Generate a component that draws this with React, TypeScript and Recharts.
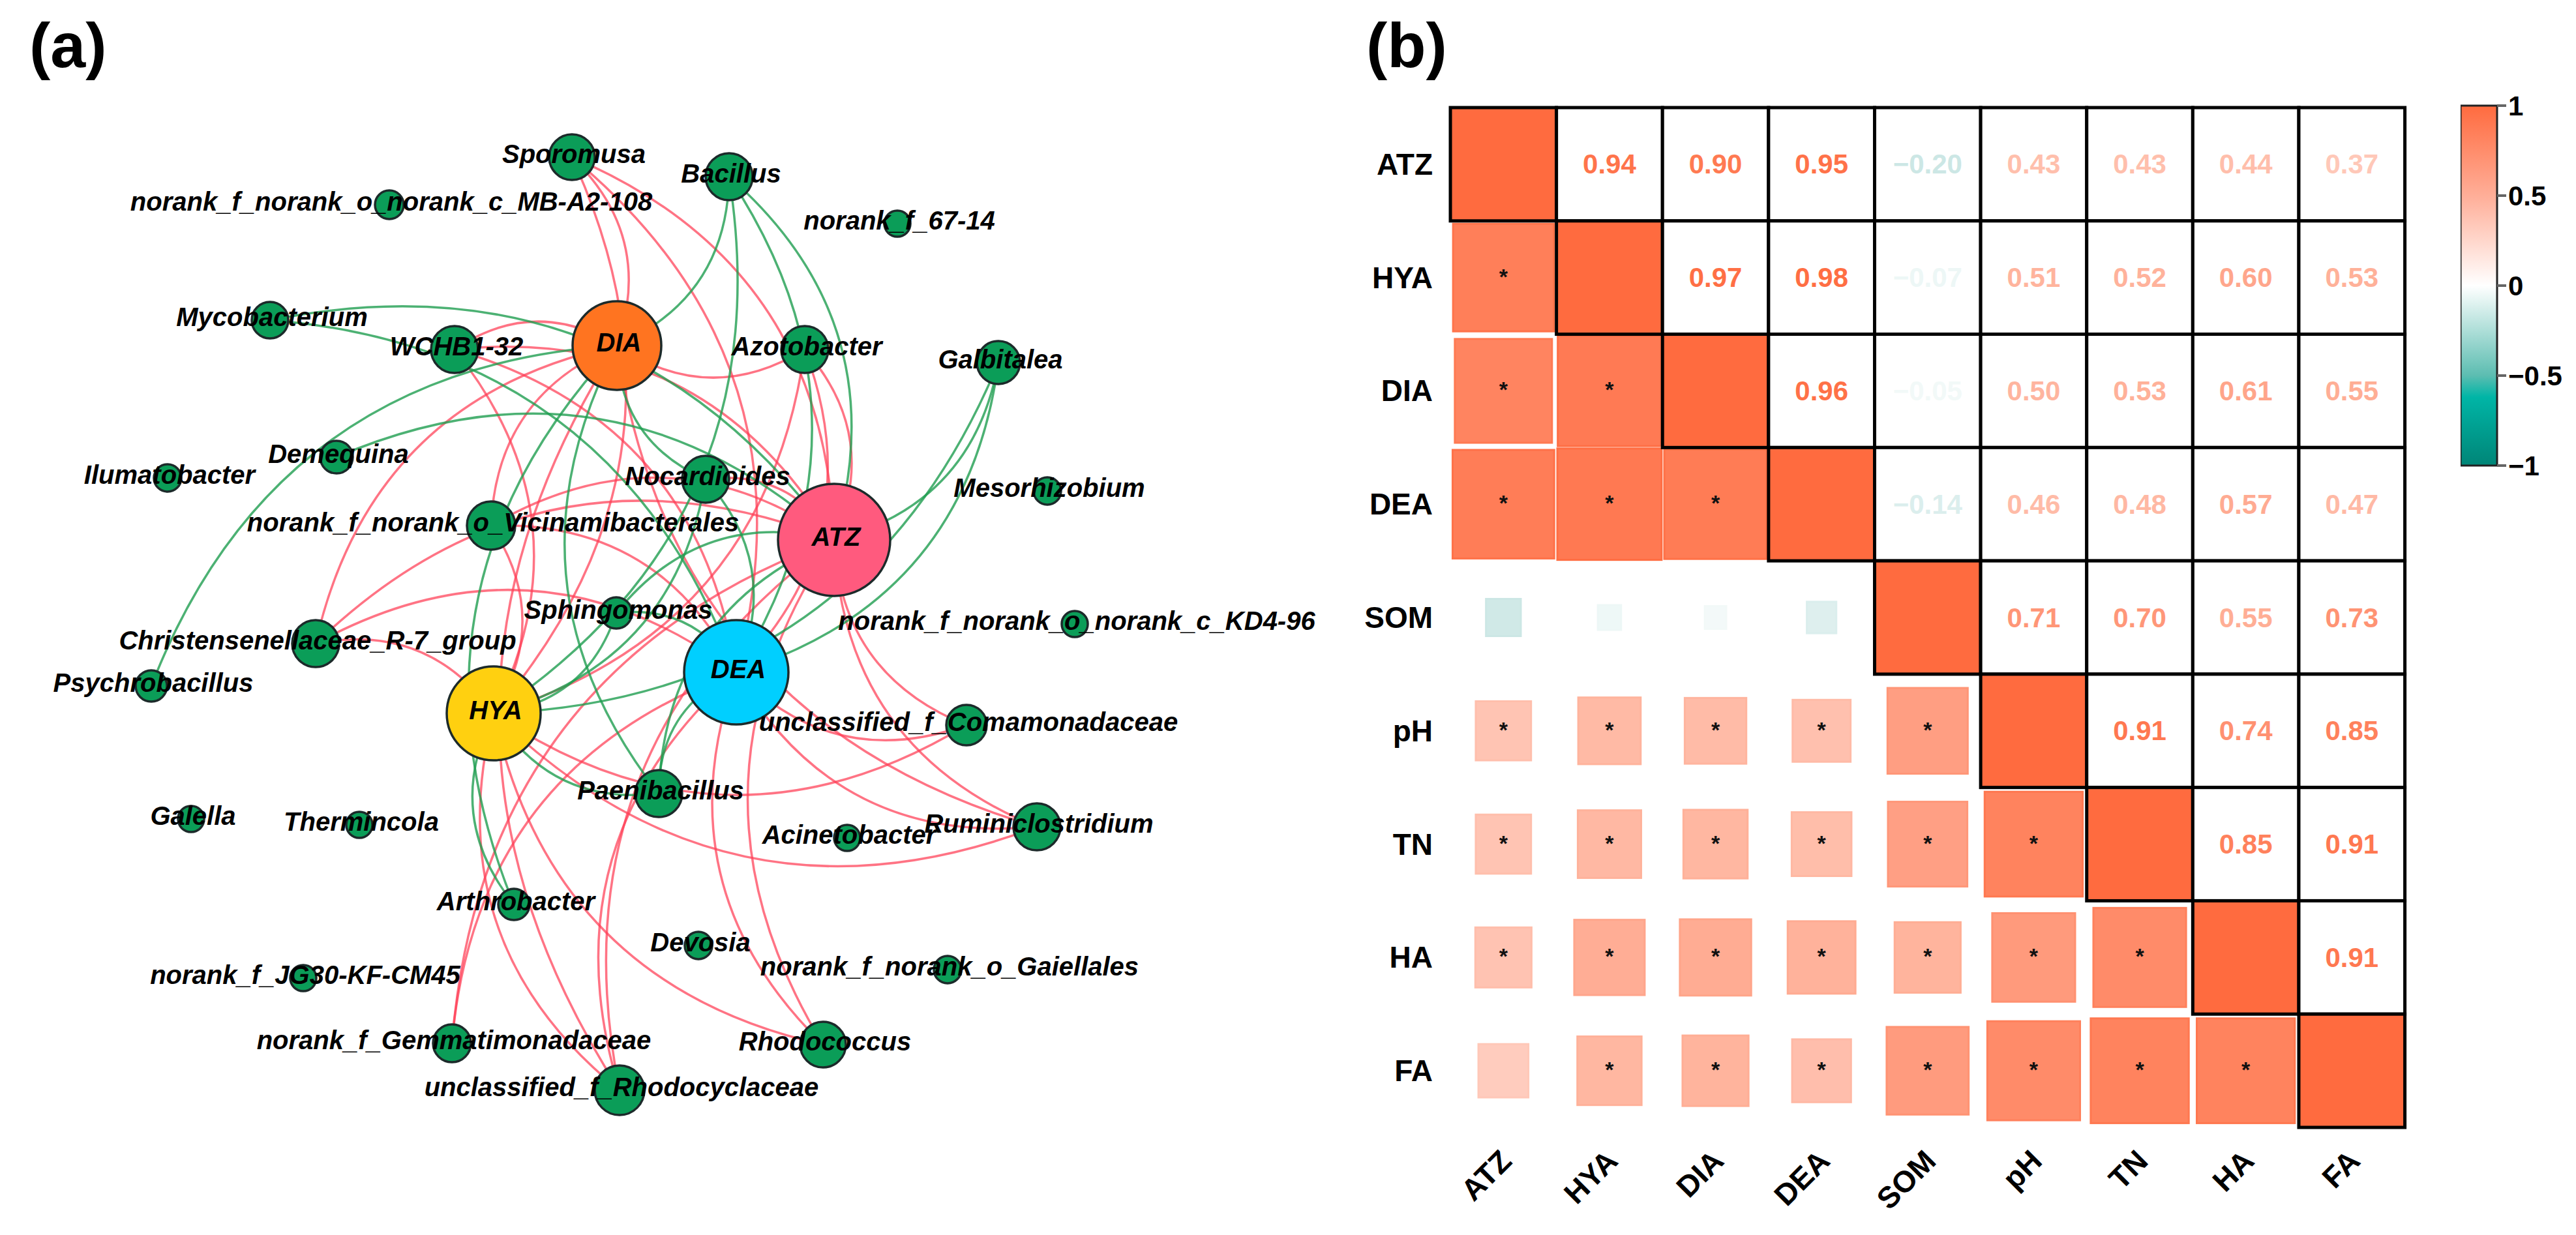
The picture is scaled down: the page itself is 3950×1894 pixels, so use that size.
import { BarChart, Bar, ComposedChart, Line, Scatter, ScatterChart, XAxis, YAxis } from "recharts";

const FONT = '"Liberation Sans", Arial, sans-serif';

// ---- panel (a): network, positions ----
const TAXA = [
  "Sporomusa", "norank_f_norank_o_norank_c_MB-A2-108", "Mycobacterium", "WCHB1-32", "Demequina", "Ilumatobacter",
  "norank_f_norank_o_Vicinamibacterales", "Sphingomonas", "Bacillus", "norank_f_67-14", "Azotobacter", "Galbitalea",
  "Nocardioides", "Mesorhizobium", "norank_f_norank_o_norank_c_KD4-96", "Christensenellaceae_R-7_group", "Psychrobacillus",
  "Paenibacillus", "unclassified_f_Comamonadaceae", "Ruminiclostridium", "Acinetobacter", "Galella", "Thermincola",
  "Arthrobacter", "norank_f_JG30-KF-CM45", "norank_f_Gemmatimonadaceae", "unclassified_f_Rhodocyclaceae", "Devosia",
  "norank_f_norank_o_Gaiellales", "Rhodococcus",
];
const TAXON_X = [877, 597, 414, 697, 516, 257, 753, 945, 1118, 1376, 1234, 1531, 1082, 1606, 1648, 484, 232, 1010, 1482, 1590, 1299, 293, 551, 788, 465, 693, 950, 1071, 1453, 1262];
const TAXON_Y = [241, 314, 491, 536, 701, 733, 806, 940, 271, 343, 536, 556, 735, 753, 957, 987, 1052, 1217, 1112, 1268, 1285, 1256, 1265, 1387, 1500, 1600, 1672, 1450, 1487, 1602];
const TAXON_R = [35, 22, 28, 36, 25, 21, 37, 24, 36, 20, 36, 33, 36, 21, 20, 36, 24, 36, 31, 36, 20, 20, 20, 24, 20, 29, 38, 21, 21, 35];

const HUBS = ["DIA", "ATZ", "HYA", "DEA"];
const HUB_X = [946, 1279, 757, 1129];
const HUB_Y = [530, 828, 1094, 1031];
const HUB_R = [68, 86, 72, 80];
const HUB_COLORS = ["#FF7420", "#FF5A7E", "#FFD010", "#00CFFF"];

// taxon -> hubs, positive (red) and negative (green) correlations
const RED_LINKS: [string, string[]][] = [
  ["Sporomusa", ["DIA", "HYA", "DEA", "ATZ"]],
  ["Azotobacter", ["DIA", "HYA", "DEA", "ATZ"]],
  ["WCHB1-32", ["DIA", "HYA", "DEA", "ATZ"]],
  ["Christensenellaceae_R-7_group", ["DIA", "HYA", "DEA", "ATZ"]],
  ["norank_f_norank_o_Vicinamibacterales", ["DIA", "HYA", "DEA", "ATZ"]],
  ["Nocardioides", ["ATZ"]],
  ["unclassified_f_Comamonadaceae", ["HYA", "DEA", "ATZ"]],
  ["Ruminiclostridium", ["DIA", "HYA", "DEA", "ATZ"]],
  ["Rhodococcus", ["HYA", "DEA", "ATZ"]],
  ["unclassified_f_Rhodocyclaceae", ["DIA", "HYA", "DEA", "ATZ"]],
  ["norank_f_Gemmatimonadaceae", ["DEA", "ATZ"]],
];
const GREEN_LINKS: [string, string[]][] = [
  ["Bacillus", ["DIA", "HYA", "DEA", "ATZ"]],
  ["Galbitalea", ["HYA", "DEA", "ATZ"]],
  ["Mycobacterium", ["DEA", "ATZ"]],
  ["Demequina", ["ATZ"]],
  ["Psychrobacillus", ["DIA"]],
  ["Nocardioides", ["DIA", "HYA", "DEA"]],
  ["Sphingomonas", ["HYA", "DEA", "ATZ"]],
  ["Paenibacillus", ["DIA", "HYA", "DEA", "ATZ"]],
  ["Arthrobacter", ["DIA", "HYA"]],
];

// ---- panel (b): correlation matrix ----
const VARS = ["ATZ", "HYA", "DIA", "DEA", "SOM", "pH", "TN", "HA", "FA"];
const CORR = [
  [1, 0.94, 0.9, 0.95, -0.2, 0.43, 0.43, 0.44, 0.37],
  [0.94, 1, 0.97, 0.98, -0.07, 0.51, 0.52, 0.6, 0.53],
  [0.9, 0.97, 1, 0.96, -0.05, 0.5, 0.53, 0.61, 0.55],
  [0.95, 0.98, 0.96, 1, -0.14, 0.46, 0.48, 0.57, 0.47],
  [-0.2, -0.07, -0.05, -0.14, 1, 0.71, 0.7, 0.55, 0.73],
  [0.43, 0.51, 0.5, 0.46, 0.71, 1, 0.91, 0.74, 0.85],
  [0.43, 0.52, 0.53, 0.48, 0.7, 0.91, 1, 0.85, 0.91],
  [0.44, 0.6, 0.61, 0.57, 0.55, 0.74, 0.85, 1, 0.91],
  [0.37, 0.53, 0.55, 0.47, 0.73, 0.85, 0.91, 0.91, 1],
];
// cells of the lower triangle that carry no star
const NOT_SIGNIFICANT = ["SOM-ATZ", "SOM-HYA", "SOM-DIA", "SOM-DEA", "FA-ATZ"];
const SCALE_TICKS = [-1, -0.5, 0, 0.5, 1];

const BEND = 0.32;
const MATRIX_W = 1463.6;
const MATRIX_H = 1564;
const CELL_W = MATRIX_W / 9;
const CELL_H = MATRIX_H / 9;

const hubNodes = HUBS.map((name, i) => ({ name, x: HUB_X[i], y: HUB_Y[i], r: HUB_R[i], color: HUB_COLORS[i] }));
const taxonNodes = TAXA.map((name, i) => ({ name, x: TAXON_X[i], y: TAXON_Y[i], r: TAXON_R[i], color: "#0B9D58" }));
const allNodes = [...taxonNodes, ...hubNodes];

function findNode(name: string) {
  return allNodes.find((n) => n.name === name)!;
}

// start, control point, end: the control point sits off the chord so the edge bows
function edgePoints(taxon: string, hub: string) {
  const a = findNode(taxon);
  const b = findNode(hub);
  const dx = b.x - a.x;
  const dy = b.y - a.y;
  return [
    { x: a.x, y: a.y },
    { x: (a.x + b.x) / 2 + BEND * dy, y: (a.y + b.y) / 2 - BEND * dx },
    { x: b.x, y: b.y },
  ];
}

// d3-style curve factory: one quadratic bezier through the three points of an edge
const quadraticEdge = (context: any) => {
  let pts: number[][] = [];
  return {
    areaStart() {},
    areaEnd() {},
    lineStart() {
      pts = [];
    },
    point(x: number, y: number) {
      pts.push([x, y]);
    },
    lineEnd() {
      if (pts.length < 3) return;
      context.moveTo(pts[0][0], pts[0][1]);
      context.quadraticCurveTo(pts[1][0], pts[1][1], pts[2][0], pts[2][1]);
    },
  };
};

const edges = [
  ...RED_LINKS.flatMap(([t, hubs]) => hubs.map((h) => ({ id: `r-${t}-${h}`, color: "#FF3D55", opacity: 0.72, points: edgePoints(t, h) }))),
  ...GREEN_LINKS.flatMap(([t, hubs]) => hubs.map((h) => ({ id: `g-${t}-${h}`, color: "#1F9E50", opacity: 0.8, points: edgePoints(t, h) }))),
];

function valueColor(v: number) {
  const t = Math.abs(v);
  const end = v >= 0 ? [255, 107, 63] : [0, 137, 123];
  const c = end.map((e) => Math.round(255 + (e - 255) * t));
  return `rgb(${c[0]},${c[1]},${c[2]})`;
}

function formatValue(v: number) {
  return (v < 0 ? "\u2212" : "") + Math.abs(v).toFixed(2);
}

const cells = CORR.flatMap((row, r) =>
  row.map((v, c) => ({
    col: c + 0.5,
    row: r + 0.5,
    v,
    star: r > c && !NOT_SIGNIFICANT.includes(`${VARS[r]}-${VARS[c]}`),
    upper: c >= r,
  }))
);
const upperCells = cells.filter((d) => d.upper);
const lowerCells = cells.filter((d) => !d.upper);

const NodeShape = (props: any) => {
  const { cx, cy, payload } = props;
  return <circle cx={cx} cy={cy} r={payload.r} fill={payload.color} stroke="#1c2a2a" strokeWidth={3.5} />;
};

const NodeLabel = (props: any) => {
  const { cx, cy, payload } = props;
  return (
    <text
      x={cx + 3}
      y={cy - 5}
      textAnchor="middle"
      dominantBaseline="central"
      fontFamily={FONT}
      fontSize={40}
      fontWeight="bold"
      fontStyle="italic"
      fill="#000"
    >
      {payload.name}
    </text>
  );
};

const LowerCell = (props: any) => {
  const { cx, cy, payload } = props;
  const scale = 0.16 + 0.84 * Math.abs(payload.v);
  const w = CELL_W * scale;
  const h = CELL_H * scale;
  const color = valueColor(payload.v);
  return (
    <g>
      <rect x={cx - w / 2} y={cy - h / 2} width={w} height={h} fill={color} fillOpacity={0.92} stroke={color} strokeWidth={3} />
      {payload.star && (
        <text x={cx} y={cy + 10} textAnchor="middle" fontFamily={FONT} fontSize={34} fontWeight="bold" fill="#111">
          *
        </text>
      )}
    </g>
  );
};

const UpperCell = (props: any) => {
  const { cx, cy, payload } = props;
  const diagonal = payload.v === 1;
  return (
    <g>
      <rect
        x={cx - CELL_W / 2}
        y={cy - CELL_H / 2}
        width={CELL_W}
        height={CELL_H}
        fill={diagonal ? "#FF6B3F" : "#fff"}
        stroke="#000"
        strokeWidth={5}
      />
      {!diagonal && (
        <text
          x={cx}
          y={cy}
          textAnchor="middle"
          dominantBaseline="central"
          fontFamily={FONT}
          fontSize={42}
          fontWeight="bold"
          fill={valueColor(payload.v)}
        >
          {formatValue(payload.v)}
        </text>
      )}
    </g>
  );
};

const RowTick = (props: any) => {
  const { x, y, payload } = props;
  return (
    <text x={x} y={y} textAnchor="end" dominantBaseline="central" fontFamily={FONT} fontSize={46} fontWeight="bold" fill="#000">
      {VARS[payload.value - 0.5]}
    </text>
  );
};

const ColTick = (props: any) => {
  const { x, y, payload } = props;
  const px = x + 4;
  const py = y + 35;
  return (
    <text
      x={px}
      y={py}
      textAnchor="end"
      dominantBaseline="central"
      fontFamily={FONT}
      fontSize={46}
      fontWeight="bold"
      fill="#000"
      transform={`rotate(-45 ${px} ${py})`}
    >
      {VARS[payload.value - 0.5]}
    </text>
  );
};

const panelLabel = (left: number): React.CSSProperties => ({
  position: "absolute",
  left,
  top: 21,
  fontFamily: FONT,
  fontSize: 97,
  lineHeight: "97px",
  fontWeight: "bold",
  color: "#000",
});

const MATRIX_TICKS = VARS.map((_, i) => i + 0.5);

export default function App() {
  return (
    <div style={{ position: "absolute", left: 0, top: 0, width: 3950, height: 1894, background: "#fff", overflow: "hidden" }}>
      <div style={panelLabel(45)}>(a)</div>
      <div style={panelLabel(2095)}>(b)</div>

      <div style={{ position: "absolute", left: 0, top: 0 }}>
        <ComposedChart width={2200} height={1894} margin={{ top: 0, right: 0, bottom: 0, left: 0 }}>
          <XAxis type="number" dataKey="x" domain={[0, 2200]} hide allowDataOverflow />
          <YAxis type="number" dataKey="y" domain={[0, 1894]} reversed hide allowDataOverflow />
          {edges.map((e) => (
            <Line
              key={e.id}
              data={e.points}
              dataKey="y"
              type={quadraticEdge as any}
              stroke={e.color}
              strokeOpacity={e.opacity}
              strokeWidth={3.5}
              dot={false}
              activeDot={false}
              isAnimationActive={false}
              legendType="none"
            />
          ))}
          <Scatter data={allNodes} dataKey="y" shape={NodeShape} isAnimationActive={false} />
          <Scatter data={allNodes} dataKey="y" shape={NodeLabel} isAnimationActive={false} />
        </ComposedChart>
      </div>

      <div style={{ position: "absolute", left: 2000, top: 0 }}>
        <ScatterChart width={1950} height={1894} margin={{ top: 165, right: 262.4, bottom: 45, left: 0 }}>
          <XAxis
            type="number"
            dataKey="col"
            domain={[0, 9]}
            ticks={MATRIX_TICKS}
            interval={0}
            height={120}
            axisLine={false}
            tickLine={false}
            tick={ColTick}
          />
          <YAxis
            type="number"
            dataKey="row"
            domain={[0, 9]}
            ticks={MATRIX_TICKS}
            interval={0}
            reversed
            width={224}
            axisLine={false}
            tickLine={false}
            tickMargin={27}
            tickSize={0}
            tick={RowTick}
          />
          <Scatter data={lowerCells} shape={LowerCell} isAnimationActive={false} />
          <Scatter data={upperCells} shape={UpperCell} isAnimationActive={false} />
        </ScatterChart>
      </div>

      <div style={{ position: "absolute", left: 3773, top: 132 }}>
        <BarChart
          width={176}
          height={612}
          data={[{ name: "r", range: [-1, 1] }]}
          margin={{ top: 30, right: 0, bottom: 30, left: 0 }}
          barCategoryGap={0}
        >
          <defs>
            <linearGradient id="corrScale" x1="0" y1="0" x2="0" y2="1">
              <stop offset="0" stopColor="#FF6B3F" />
              <stop offset="0.25" stopColor="#FFAE98" />
              <stop offset="0.5" stopColor="#FFFFFF" />
              <stop offset="0.75" stopColor="#5CBDB1" />
              <stop offset="0.81" stopColor="#00B5A6" />
              <stop offset="1" stopColor="#008577" />
            </linearGradient>
          </defs>
          <XAxis dataKey="name" hide />
          <YAxis
            orientation="right"
            type="number"
            domain={[-1, 1]}
            ticks={SCALE_TICKS}
            interval={0}
            width={120}
            axisLine={false}
            tickSize={14}
            tickMargin={3}
            tickLine={{ stroke: "#666", strokeWidth: 4 }}
            tickFormatter={(v: number) => String(v).replace("-", "\u2212")}
            tick={{ fontFamily: FONT, fontSize: 42, fontWeight: "bold", fill: "#000" }}
          />
          <Bar dataKey="range" fill="url(#corrScale)" stroke="#222" strokeWidth={3} isAnimationActive={false} />
        </BarChart>
      </div>
    </div>
  );
}
